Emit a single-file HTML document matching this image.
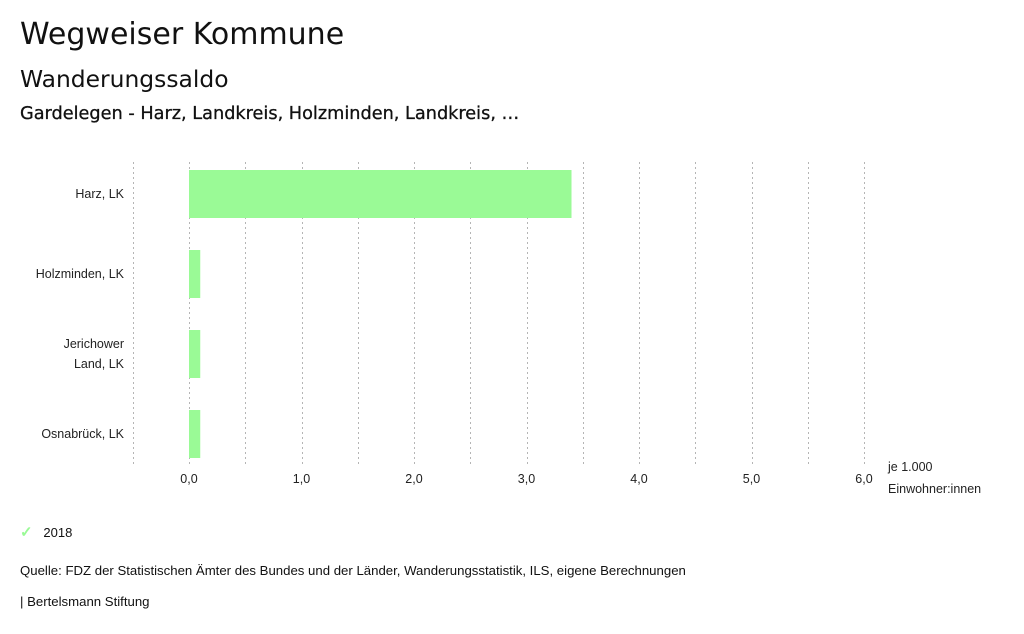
<!DOCTYPE html>
<html><head><meta charset="utf-8"><style>
body{margin:0;width:1024px;height:634px;background:#fff;overflow:hidden;font-family:"Liberation Sans",sans-serif;color:#111}
.t{position:absolute;left:20px;font-family:"DejaVu Sans",sans-serif;white-space:nowrap}
</style></head><body>
<div class="t" style="top:17px;font-size:30px">Wegweiser Kommune</div>
<div class="t" style="top:65px;font-size:23.4px">Wanderungssaldo</div>
<div class="t" style="top:104px;font-size:17.7px;-webkit-text-stroke:0.3px #111">Gardelegen - Harz, Landkreis, Holzminden, Landkreis, …</div>
<svg id="chart" width="1024" height="634" style="position:absolute;left:0;top:0" font-family="Liberation Sans, sans-serif" font-size="12.5"></svg>
<script>
const categories=[["Harz, LK"],["Holzminden, LK"],["Jerichower","Land, LK"],["Osnabrück, LK"]];
const values2018=[3.4,0.1,0.1,0.1];
const ticks=[0,1,2,3,4,5,6];
const tickLabels=["0,0","1,0","2,0","3,0","4,0","5,0","6,0"];
const NS="http://www.w3.org/2000/svg";
const svg=document.getElementById('chart');
const x=v=>189+v*112.5;
const y=i=>170+i*80;
function mk(t,a){const e=document.createElementNS(NS,t);for(const k in a)e.setAttribute(k,a[k]);svg.appendChild(e);return e;}
for(let g=-0.5;g<=6.001;g+=0.5){
 const l=mk('line',{x1:Math.round(x(g))+0.5,x2:Math.round(x(g))+0.5,y1:162,y2:464,stroke:'#b5b5b5','stroke-width':1,'stroke-dasharray':'2,3'});
 
 
}
ticks.forEach((t,i)=>{
 const e=mk('text',{x:x(t),y:483,'text-anchor':'middle',fill:'#222'});e.textContent=tickLabels[i];
 
 
});
categories.forEach((c,i)=>{
 const r=mk('rect',{x:x(0),y:y(i),width:x(values2018[i])-x(0),height:48,fill:'#9afa96'});
 
 
 const cy=y(i)+24+4;
 c.forEach((ln,j)=>{
  const e=mk('text',{x:124,y:cy+(j-(c.length-1)/2)*20,'text-anchor':'end',fill:'#222'});e.textContent=ln;
  
  
 });
});
[["je 1.000",471],["Einwohner:innen",493]].forEach(a=>{
 const e=mk('text',{x:888,y:a[1],fill:'#222'});e.textContent=a[0];
 
 
});
</script>
<div style="position:absolute;left:20px;top:523px;font-size:13px"><span style="color:#9afa96;font-size:15px;font-weight:bold">✓</span>&nbsp;&nbsp;&nbsp;2018</div>
<div style="position:absolute;left:20px;top:563px;font-size:13.2px">Quelle: FDZ der Statistischen Ämter des Bundes und der Länder, Wanderungsstatistik, ILS, eigene Berechnungen</div>
<div style="position:absolute;left:20px;top:594px;font-size:13.2px">| Bertelsmann Stiftung</div>
</body></html>
